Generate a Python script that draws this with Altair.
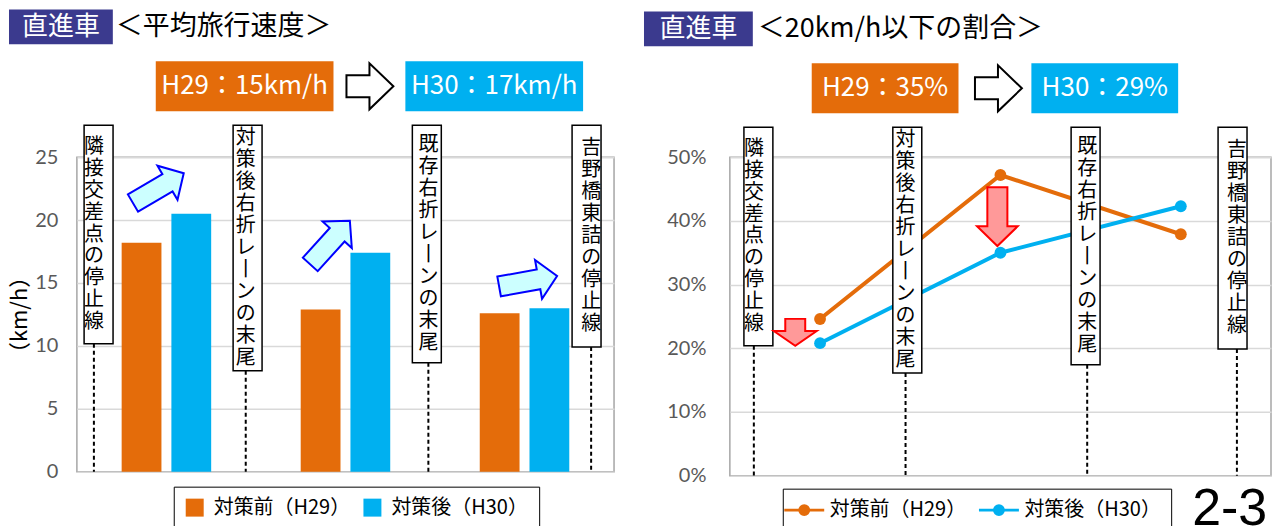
import altair as alt
import pandas as pd

# ---------------- data ----------------
sections = ["区間1", "区間2", "区間3"]
series = ["対策前（H29）", "対策後（H30）"]
speed_h29 = [18.2, 12.9, 12.6]
speed_h30 = [20.5, 17.4, 13.0]
share_h29 = [0.246, 0.472, 0.379]
share_h30 = [0.208, 0.350, 0.423]
speed_ticks = [0, 5, 10, 15, 20, 25]
share_ticks = [0, 0.1, 0.2, 0.3, 0.4, 0.5]
landmarks = ["隣接交差点の停止線", "対策後右折レーンの末尾", "既存右折レーンの末尾", "吉野橋東詰の停止線"]
speed_landmark_pos = [0.095, 0.943, 1.963, 2.872]
share_landmark_pos = [0.133, 0.974, 1.981, 2.811]
speed_box_top = [27.54, 27.54, 27.54, 27.54]
speed_box_bottom = [10.16, 8.02, 8.65, 9.92]
share_box_top = [0.547, 0.547, 0.547, 0.547]
share_box_bottom = [0.204, 0.161, 0.174, 0.199]
speed_arrow_pos = [0.455, 1.414, 2.52]
speed_arrow_val = [22.54, 18.21, 15.14]
speed_arrow_angle = [329.5, 312.2, 349.8]
share_arrow_pos = [0.3625, 1.483]
share_arrow_val = [0.225, 0.4067]

# ---------------- style ----------------
JP = "Noto Sans CJK JP"
NUM = "Lato"
ORANGE = "#E46C0A"
BLUE = "#00B0F0"
NAVY = "#3B3A8E"
W1, H1 = 538, 315
W2, H2 = 542, 319
LH = 22  # line height of the vertical labels

GROW = "M -1 -0.34 L 0.36 -0.34 L 0.36 -0.67 L 1 0 L 0.36 0.67 L 0.36 0.34 L -1 0.34 Z"
HOLLOW = "M -1 -0.47 L -0.02 -0.47 L -0.02 -0.98 L 1 0 L -0.02 0.98 L -0.02 0.47 L -1 0.47 Z"
DOWN_SMALL = "M -0.74 -1 L 0.74 -1 L 0.74 -0.1 L 1.59 -0.1 L 0 1 L -1.59 -0.1 L -0.74 -0.1 Z"
DOWN_BIG = "M -0.34 -1 L 0.34 -1 L 0.34 0.33 L 0.69 0.33 L 0 1 L -0.69 0.33 L -0.34 0.33 Z"
LINE_DOT = "M -2 0 L 2 0 M 0.45 0 A 0.45 0.45 0 1 1 -0.45 0 A 0.45 0.45 0 1 1 0.45 0"

color_scale = alt.Scale(domain=series, range=[ORANGE, BLUE])


def vertical(name):
    return "\n".join("丨" if c == "ー" else c for c in name)


one = pd.DataFrame({"k": [0]})


def rect(x1, x2, y1, y2, color):
    return alt.Chart(one).mark_rect(color=color).encode(
        x=alt.value(x1), x2=alt.value(x2), y=alt.value(y1), y2=alt.value(y2)
    )


def label(text, x, y, size, color, align="center", font=JP, baseline="middle"):
    return alt.Chart(pd.DataFrame({"t": [text]})).mark_text(
        font=font, fontSize=size, color=color, align=align, baseline=baseline
    ).encode(x=alt.value(x), y=alt.value(y), text="t:N")


def hollow_arrow(x, y):
    return alt.Chart(one).mark_point(
        shape=HOLLOW, size=47 * 47, filled=True, fill="white", stroke="black",
        strokeWidth=2, opacity=1
    ).encode(x=alt.value(x), y=alt.value(y))


def landmark_layers(pos, top, bottom, ydomain, plot_h):
    ppu = plot_h / (ydomain[1] - ydomain[0])
    n = [len(x) for x in landmarks]
    df = pd.DataFrame({
        "name": landmarks,
        "label": [vertical(x) for x in landmarks],
        "pos": pos,
        "top": top,
        "bottom": bottom,
        "shift": [(k - 1) * LH / 2 / ppu for k in n],
    })
    base = alt.Chart(df).transform_calculate(
        ytxt="(datum.top + datum.bottom) / 2 + datum.shift"
    )
    xq = alt.X("pos:Q", scale=alt.Scale(domain=[0, 3], nice=False), axis=None)
    ys = alt.Scale(domain=ydomain, nice=False)
    dash = base.mark_rule(color="black", strokeWidth=2, strokeDash=[4, 3]).encode(
        x=xq, y=alt.Y("bottom:Q", scale=ys), y2=alt.datum(0)
    )
    box = base.mark_bar(width=29, fill="white", stroke="black", strokeWidth=1.5).encode(
        x=xq, y=alt.Y("top:Q", scale=ys), y2="bottom:Q"
    )
    txt = base.mark_text(font=JP, fontSize=20, lineHeight=LH, lineBreak="\n",
                         align="center", baseline="middle", color="black").encode(
        x=xq, y=alt.Y("ytxt:Q", scale=ys), text="label:N"
    )
    return [dash, box, txt]


# ---------------- left panel: average speed ----------------
speed_df = pd.DataFrame({
    "section": sections * 2,
    "series": [series[0]] * 3 + [series[1]] * 3,
    "speed": speed_h29 + speed_h30,
})

bars = alt.Chart(speed_df).mark_bar().encode(
    x=alt.X("section:N", sort=sections, axis=None,
            scale=alt.Scale(paddingInner=0, paddingOuter=0)),
    xOffset=alt.XOffset("series:N", sort=series,
                        scale=alt.Scale(paddingInner=0.2, paddingOuter=0.9)),
    y=alt.Y("speed:Q", scale=alt.Scale(domain=[0, 25], nice=False),
            axis=alt.Axis(values=speed_ticks, title="（km/h）", titleFont=JP,
                          titleFontSize=22, titleFontWeight="normal", titleColor="black",
                          titleAngle=270, titleX=-57, titleY=H1 / 2,
                          titleAlign="center", titleBaseline="middle",
                          labelPadding=19)),
    color=alt.Color("series:N", sort=series, scale=color_scale,
                    legend=alt.Legend(orient="none", legendX=97, legendY=330,
                                      direction="horizontal", title=None,
                                      strokeColor="black", padding=11,
                                      symbolType="square", symbolSize=324,
                                      symbolStrokeWidth=0,
                                      labelFont=JP, labelFontSize=20, labelColor="black",
                                      labelOffset=9, columnPadding=12)),
)

grow_df = pd.DataFrame({"pos": speed_arrow_pos, "val": speed_arrow_val, "ang": speed_arrow_angle})
grow = alt.Chart(grow_df).mark_point(
    shape=GROW, size=59 * 59, filled=True, fill="#CCFFFF", stroke="#0000FF",
    strokeWidth=2, opacity=1
).encode(
    x=alt.X("pos:Q", scale=alt.Scale(domain=[0, 3], nice=False), axis=None),
    y=alt.Y("val:Q", scale=alt.Scale(domain=[0, 25], nice=False)),
    angle=alt.Angle("ang:Q", scale=None),
)

left = alt.layer(
    bars,
    *landmark_layers(speed_landmark_pos, speed_box_top, speed_box_bottom, [0, 25], H1),
    grow,
    rect(-68, 36, -148, -113, NAVY),
    label("直進車", -16, -130.5, 26, "white"),
    label("＜平均旅行速度＞", 39, -130.5, 27, "black", align="left"),
    rect(79, 257, -96, -46, ORANGE),
    label("H29：15km/h", 168, -71, 26, "white"),
    hollow_arrow(293.5, -71),
    rect(329, 507, -96, -46, BLUE),
    label("H30：17km/h", 418, -71, 26, "white"),
).resolve_scale(x="independent").properties(width=W1, height=H1)

# ---------------- right panel: share at 20km/h or less ----------------
share_df = pd.DataFrame({
    "section": sections * 2,
    "series": [series[0]] * 3 + [series[1]] * 3,
    "share": share_h29 + share_h30,
})

line_legend = alt.Legend(orient="none", legendX=53, legendY=332,
                         direction="horizontal", title=None,
                         strokeColor="black", padding=10,
                         symbolType=LINE_DOT, symbolSize=400, symbolStrokeWidth=3,
                         labelFont=JP, labelFontSize=20, labelColor="black",
                         labelOffset=14, columnPadding=6)

xs = alt.X("section:N", sort=sections, axis=None, scale=alt.Scale(type="point", padding=0.5))
ys = alt.Y("share:Q", scale=alt.Scale(domain=[0, 0.5], nice=False),
           axis=alt.Axis(values=share_ticks, format=".0%", title=None, labelPadding=24))

lines = alt.Chart(share_df).mark_line(strokeWidth=4).encode(
    x=xs, y=ys, color=alt.Color("series:N", sort=series, scale=color_scale, legend=line_legend)
)
pts = alt.Chart(share_df).mark_circle(size=140, opacity=1).encode(
    x=xs, y=ys, color=alt.Color("series:N", sort=series, scale=color_scale, legend=line_legend)
)

down_df = pd.DataFrame({"pos": share_arrow_pos, "val": share_arrow_val})
xq2 = alt.X("pos:Q", scale=alt.Scale(domain=[0, 3], nice=False), axis=None)
yq2 = alt.Y("val:Q", scale=alt.Scale(domain=[0, 0.5], nice=False))
down_small = alt.Chart(down_df.iloc[[0]]).mark_point(
    shape=DOWN_SMALL, size=27 * 27, filled=True, fill="#FF9999", stroke="#FF0000",
    strokeWidth=2, opacity=1
).encode(x=xq2, y=yq2)
down_big = alt.Chart(down_df.iloc[[1]]).mark_point(
    shape=DOWN_BIG, size=59 * 59, filled=True, fill="#FF9999", stroke="#FF0000",
    strokeWidth=2, opacity=1
).encode(x=xq2, y=yq2)

right = alt.layer(
    lines,
    pts,
    *landmark_layers(share_landmark_pos, share_box_top, share_box_bottom, [0, 0.5], H2),
    down_small,
    down_big,
    rect(-86, 23, -146, -111, NAVY),
    label("直進車", -31.5, -128.5, 26, "white"),
    label("＜20km/h以下の割合＞", 28, -128.5, 27, "black", align="left"),
    rect(82, 229, -94, -44, ORANGE),
    label("H29：35%", 155.5, -69, 26, "white"),
    hollow_arrow(269, -69),
    rect(302, 449, -94, -44, BLUE),
    label("H30：29%", 375.5, -69, 26, "white"),
    label("2-3", 463, 368, 52, "black", align="left", font="Liberation Sans",
          baseline="alphabetic"),
).resolve_scale(x="independent").properties(width=W2, height=H2)

chart = alt.hconcat(left, right, spacing=28).resolve_scale(
    color="independent", x="independent", y="independent"
).resolve_legend(color="independent").properties(
    padding=0, background="white"
).configure_view(
    stroke="#a6a6a6", strokeWidth=1.5
).configure_axis(
    gridColor="#d9d9d9", gridWidth=1.5, labelFont=NUM, labelFontSize=20,
    labelColor="#595959", ticks=False, domain=False
)

chart.save("out.html", embed_options={"renderer": "svg", "actions": False})
